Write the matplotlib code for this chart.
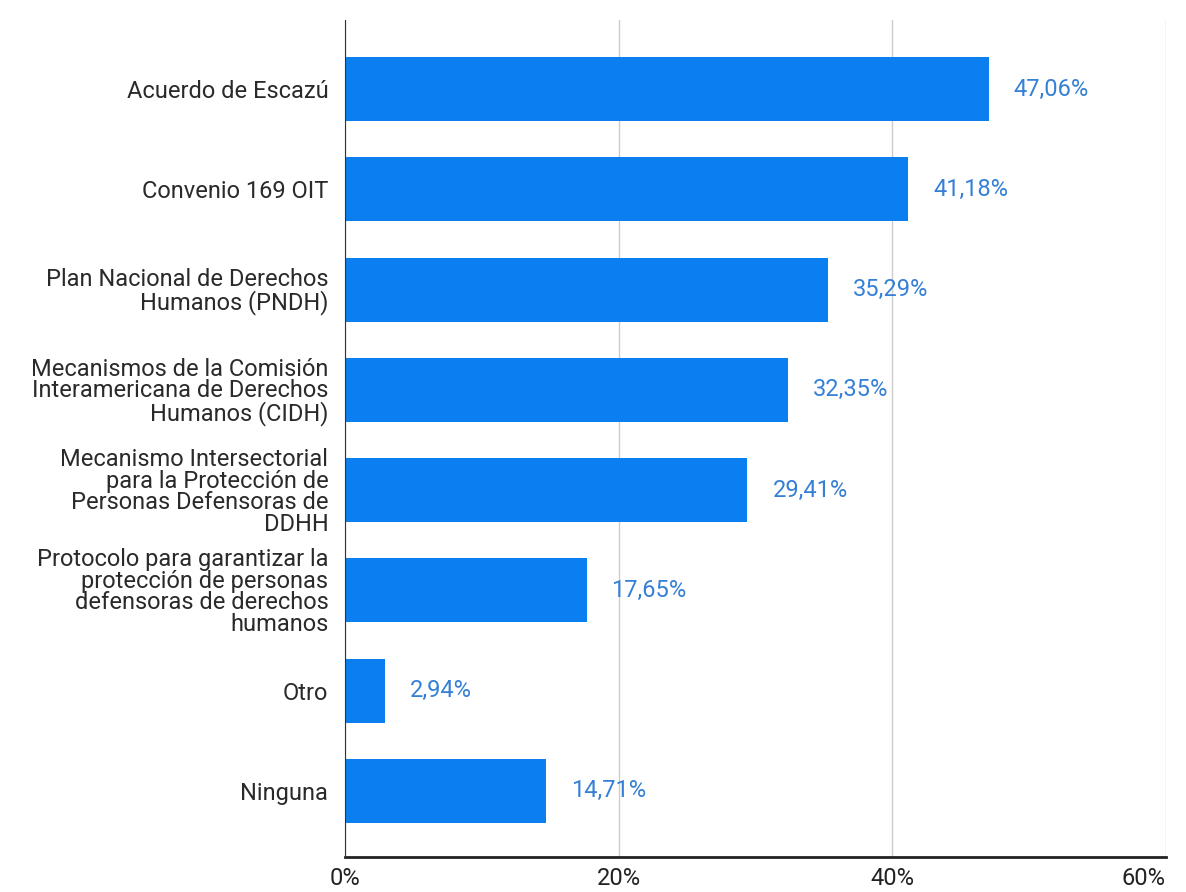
import numpy as np
import matplotlib
matplotlib.use('Agg')
import matplotlib.pyplot as plt
from matplotlib.ticker import FuncFormatter

plt.rcParams['font.family'] = ['Roboto', 'DejaVu Sans']

# Datos
categorias = [
    'Acuerdo de Escazú',
    'Convenio 169 OIT',
    'Plan Nacional de Derechos\nHumanos (PNDH)',
    'Mecanismos de la Comisión\nInteramericana de Derechos\nHumanos (CIDH)',
    'Mecanismo Intersectorial\npara la Protección de\nPersonas Defensoras de\nDDHH',
    'Protocolo para garantizar la\nprotección de personas\ndefensoras de derechos\nhumanos',
    'Otro',
    'Ninguna',
]
valores = [47.06, 41.18, 35.29, 32.35, 29.41, 17.65, 2.94, 14.71]
ticks_x = [0, 20, 40, 60]

color_barra = '#0b7ef0'
color_etiqueta = '#3580d6'

fig = plt.figure(figsize=(11.86, 8.92), dpi=100)
ax = fig.add_axes([0.2909, 0.0392, 0.6922, 0.9384])

y = np.arange(len(categorias))
ax.barh(y, valores, height=0.64, color=color_barra, zorder=3)

for yi, v in zip(y, valores):
    ax.annotate(f'{v:.2f}%'.replace('.', ','), (v, yi), xytext=(25, 0),
                textcoords='offset pixels', va='center', ha='left',
                color=color_etiqueta, fontsize=17)

ax.set_xlim(0, 60)
ax.set_ylim(7.66, -0.69)
ax.set_yticks(y)
ax.set_yticklabels(categorias, fontsize=17, color='#2a2a2a', linespacing=0.92)
ax.set_xticks(ticks_x)
ax.xaxis.set_major_formatter(FuncFormatter(lambda v, p: f'{v:.0f}%'))
ax.tick_params(axis='x', labelsize=17, length=0, pad=7, colors='#222222')
ax.tick_params(axis='y', length=0, pad=12)
# la etiqueta del 60% queda pegada al borde derecho
ax.get_xticklabels()[-1].set_horizontalalignment('right')

ax.grid(axis='x', color='#cccccc', linewidth=1, zorder=0)
for s in ['top', 'right']:
    ax.spines[s].set_visible(False)
ax.spines['left'].set_color('#333333')
ax.spines['left'].set_zorder(4)
ax.spines['bottom'].set_color('#222222')
ax.spines['bottom'].set_linewidth(2)

plt.savefig('out.png', dpi=100)
